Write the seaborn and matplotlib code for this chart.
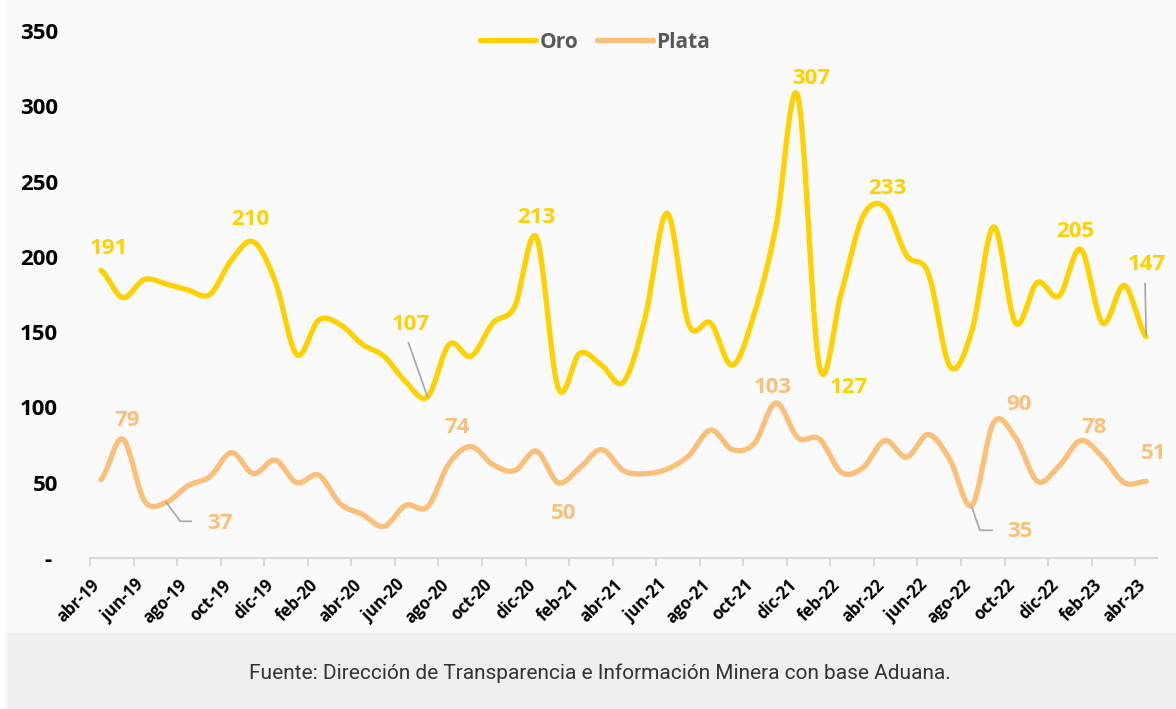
import numpy as np
import pandas as pd
import matplotlib
matplotlib.use("Agg")
import matplotlib.pyplot as plt
import matplotlib.transforms as mtrans
from matplotlib.patches import Rectangle
import seaborn as sns

# monthly series abr-19 .. abr-23
months = ["abr-19", "may-19", "jun-19", "jul-19", "ago-19", "sep-19", "oct-19", "nov-19", "dic-19",
          "ene-20", "feb-20", "mar-20", "abr-20", "may-20", "jun-20", "jul-20", "ago-20", "sep-20",
          "oct-20", "nov-20", "dic-20", "ene-21", "feb-21", "mar-21", "abr-21", "may-21", "jun-21",
          "jul-21", "ago-21", "sep-21", "oct-21", "nov-21", "dic-21", "ene-22", "feb-22", "mar-22",
          "abr-22", "may-22", "jun-22", "jul-22", "ago-22", "sep-22", "oct-22", "nov-22", "dic-22",
          "ene-23", "feb-23", "mar-23", "abr-23"]

oro = [191, 173, 185, 182, 178, 175, 198, 210, 184, 135, 158, 155, 142, 134, 117, 107, 142, 134,
       156, 167, 213, 113, 136, 128, 117, 160, 229, 155, 156, 128, 162, 220, 307, 127, 176, 227,
       233, 201, 189, 127, 151, 220, 156, 183, 174, 205, 156, 181, 147]

plata = [52, 79, 38, 37, 48, 54, 70, 56, 65, 50, 55, 36, 29, 21, 35, 34, 63, 74,
         62, 58, 71, 50, 60, 72, 58, 56, 59, 68, 85, 72, 76, 103, 80, 79, 57, 60,
         78, 67, 82, 65, 35, 90, 80, 51, 61, 78, 67, 50, 51]

# which points get a value label
oro_lbl = [0, 7, 15, 20, 32, 33, 36, 45, 48]
plata_lbl = [1, 3, 17, 21, 31, 40, 41, 45, 48]

ORO_C = "#FFD100"
PLATA_C = "#FAC07A"
LEAD_C = "#A6A6A6"


def smooth(vals, n=20):
    # catmull-rom, like excel's smoothed line
    p = np.array(vals, dtype=float)
    p = np.concatenate([[p[0]], p, [p[-1]]])
    xs, ys = [], []
    for k in range(1, len(p) - 2):
        t = np.linspace(0, 1, n, endpoint=False)
        p0, p1, p2, p3 = p[k - 1], p[k], p[k + 1], p[k + 2]
        y = 0.5 * ((2 * p1) + (-p0 + p2) * t + (2 * p0 - 5 * p1 + 4 * p2 - p3) * t ** 2
                   + (-p0 + 3 * p1 - 3 * p2 + p3) * t ** 3)
        xs.extend(k - 1 + t)
        ys.extend(y)
    xs.append(len(vals) - 1)
    ys.append(vals[-1])
    return pd.DataFrame({"x": xs, "v": ys})


W, H = 1176, 709
fig = plt.figure(figsize=(W / 100, H / 100), dpi=100)
fig.patch.set_facecolor("white")
fig.patches.append(Rectangle((5 / W, 0), 1, 1, transform=fig.transFigure, color="#FAFAFA", zorder=-10))
fig.patches.append(Rectangle((8 / W, 0), 1, 76 / H, transform=fig.transFigure, color="#EFEFEF", zorder=-9))

ax = fig.add_axes([90 / W, 151 / H, 1067 / W, 527 / H])
ax.set_facecolor("none")

sns.lineplot(data=smooth(oro), x="x", y="v", ax=ax, color=ORO_C, lw=3.8, sort=False,
             estimator=None, label="Oro", solid_capstyle="round")
sns.lineplot(data=smooth(plata), x="x", y="v", ax=ax, color=PLATA_C, lw=3.8, sort=False,
             estimator=None, label="Plata", solid_capstyle="round")

ax.set_xlim(-0.5, len(months) - 0.5)
ax.set_ylim(0, 350)
ax.set_xlabel("")
ax.set_ylabel("")

for s in ["top", "right", "left"]:
    ax.spines[s].set_visible(False)
ax.spines["bottom"].set_color("#D9D9D9")
ax.spines["bottom"].set_linewidth(1.5)

# tick marks between categories, labels on every second month
ax.set_xticks(np.arange(-0.5, len(months) - 1, 2))
ax.set_xticklabels([])
ax.tick_params(axis="x", which="major", length=6, width=1.5, color="#D9D9D9")
ax.set_xticks(np.arange(0, len(months), 2), minor=True)
ax.set_xticklabels(months[::2], minor=True, rotation=45, ha="right", va="top",
                   rotation_mode="anchor", fontsize=12, fontweight="bold", family="Open Sans")
ax.tick_params(axis="x", which="minor", length=0, pad=13)
shift = mtrans.ScaledTranslation(-10 / 100, 0, fig.dpi_scale_trans)
for lab in ax.get_xticklabels(minor=True):
    lab.set_transform(lab.get_transform() + shift)

ax.set_yticks(range(0, 351, 50))
ax.set_yticklabels(["- "] + [str(v) for v in range(50, 351, 50)],
                   fontsize=16, fontweight="bold", family="Open Sans")
ax.tick_params(axis="y", length=0, pad=23)

# value labels, offsets in pixels from the point
oro_off = {0: (8, 22), 7: (-3, 22), 15: (-17, 72), 20: (0, 20), 32: (13, 17),
           33: (29, -21), 36: (2, 19), 45: (-6, 18), 48: (1, 72)}
plata_off = {1: (4, 19), 3: (54, -21), 17: (-14, 19), 21: (5, -31), 31: (-3, 15),
             40: (48, -26), 41: (25, 18), 45: (13, 13), 48: (8, 28)}

for vals, idx, off, col in [(oro, oro_lbl, oro_off, ORO_C), (plata, plata_lbl, plata_off, PLATA_C)]:
    for i in idx:
        ax.annotate(str(vals[i]), (i, vals[i]), xytext=off[i], textcoords="offset pixels",
                    ha="center", va="center", fontsize=16, fontweight="bold",
                    color=col, family="Open Sans")

# leader lines (pixel offsets from the point)
leaders = [(oro, 15, [(-19, 54), (0, 0)]),
           (oro, 48, [(-1, 53), (0, 2)]),
           (plata, 3, [(0, 0), (14, -19), (25, -19)]),
           (plata, 40, [(0, -2), (8, -25), (20, -25)])]
inv = ax.transData.inverted()
for vals, i, pts in leaders:
    bx, by = ax.transData.transform((i, vals[i]))
    dd = inv.transform([(bx + dx, by + dy) for dx, dy in pts])
    ax.plot(dd[:, 0], dd[:, 1], color=LEAD_C, lw=1.2, zorder=3)

leg = ax.legend(loc="center", bbox_to_anchor=(595 / W, 1 - 42 / H), bbox_transform=fig.transFigure,
                ncol=2, frameon=False, handlelength=2.7, handletextpad=0.15, columnspacing=0.9,
                prop={"family": "Open Sans", "weight": "bold", "size": 15})
for t in leg.get_texts():
    t.set_color("#595959")
for l in leg.get_lines():
    l.set_linewidth(3.8)

fig.text(600 / W, 1 - 673 / H, "Fuente: Dirección de Transparencia e Información Minera con base Aduana.",
         ha="center", va="center", fontsize=15, color="#333333", family="Roboto")

fig.savefig("out.png", dpi=100)
